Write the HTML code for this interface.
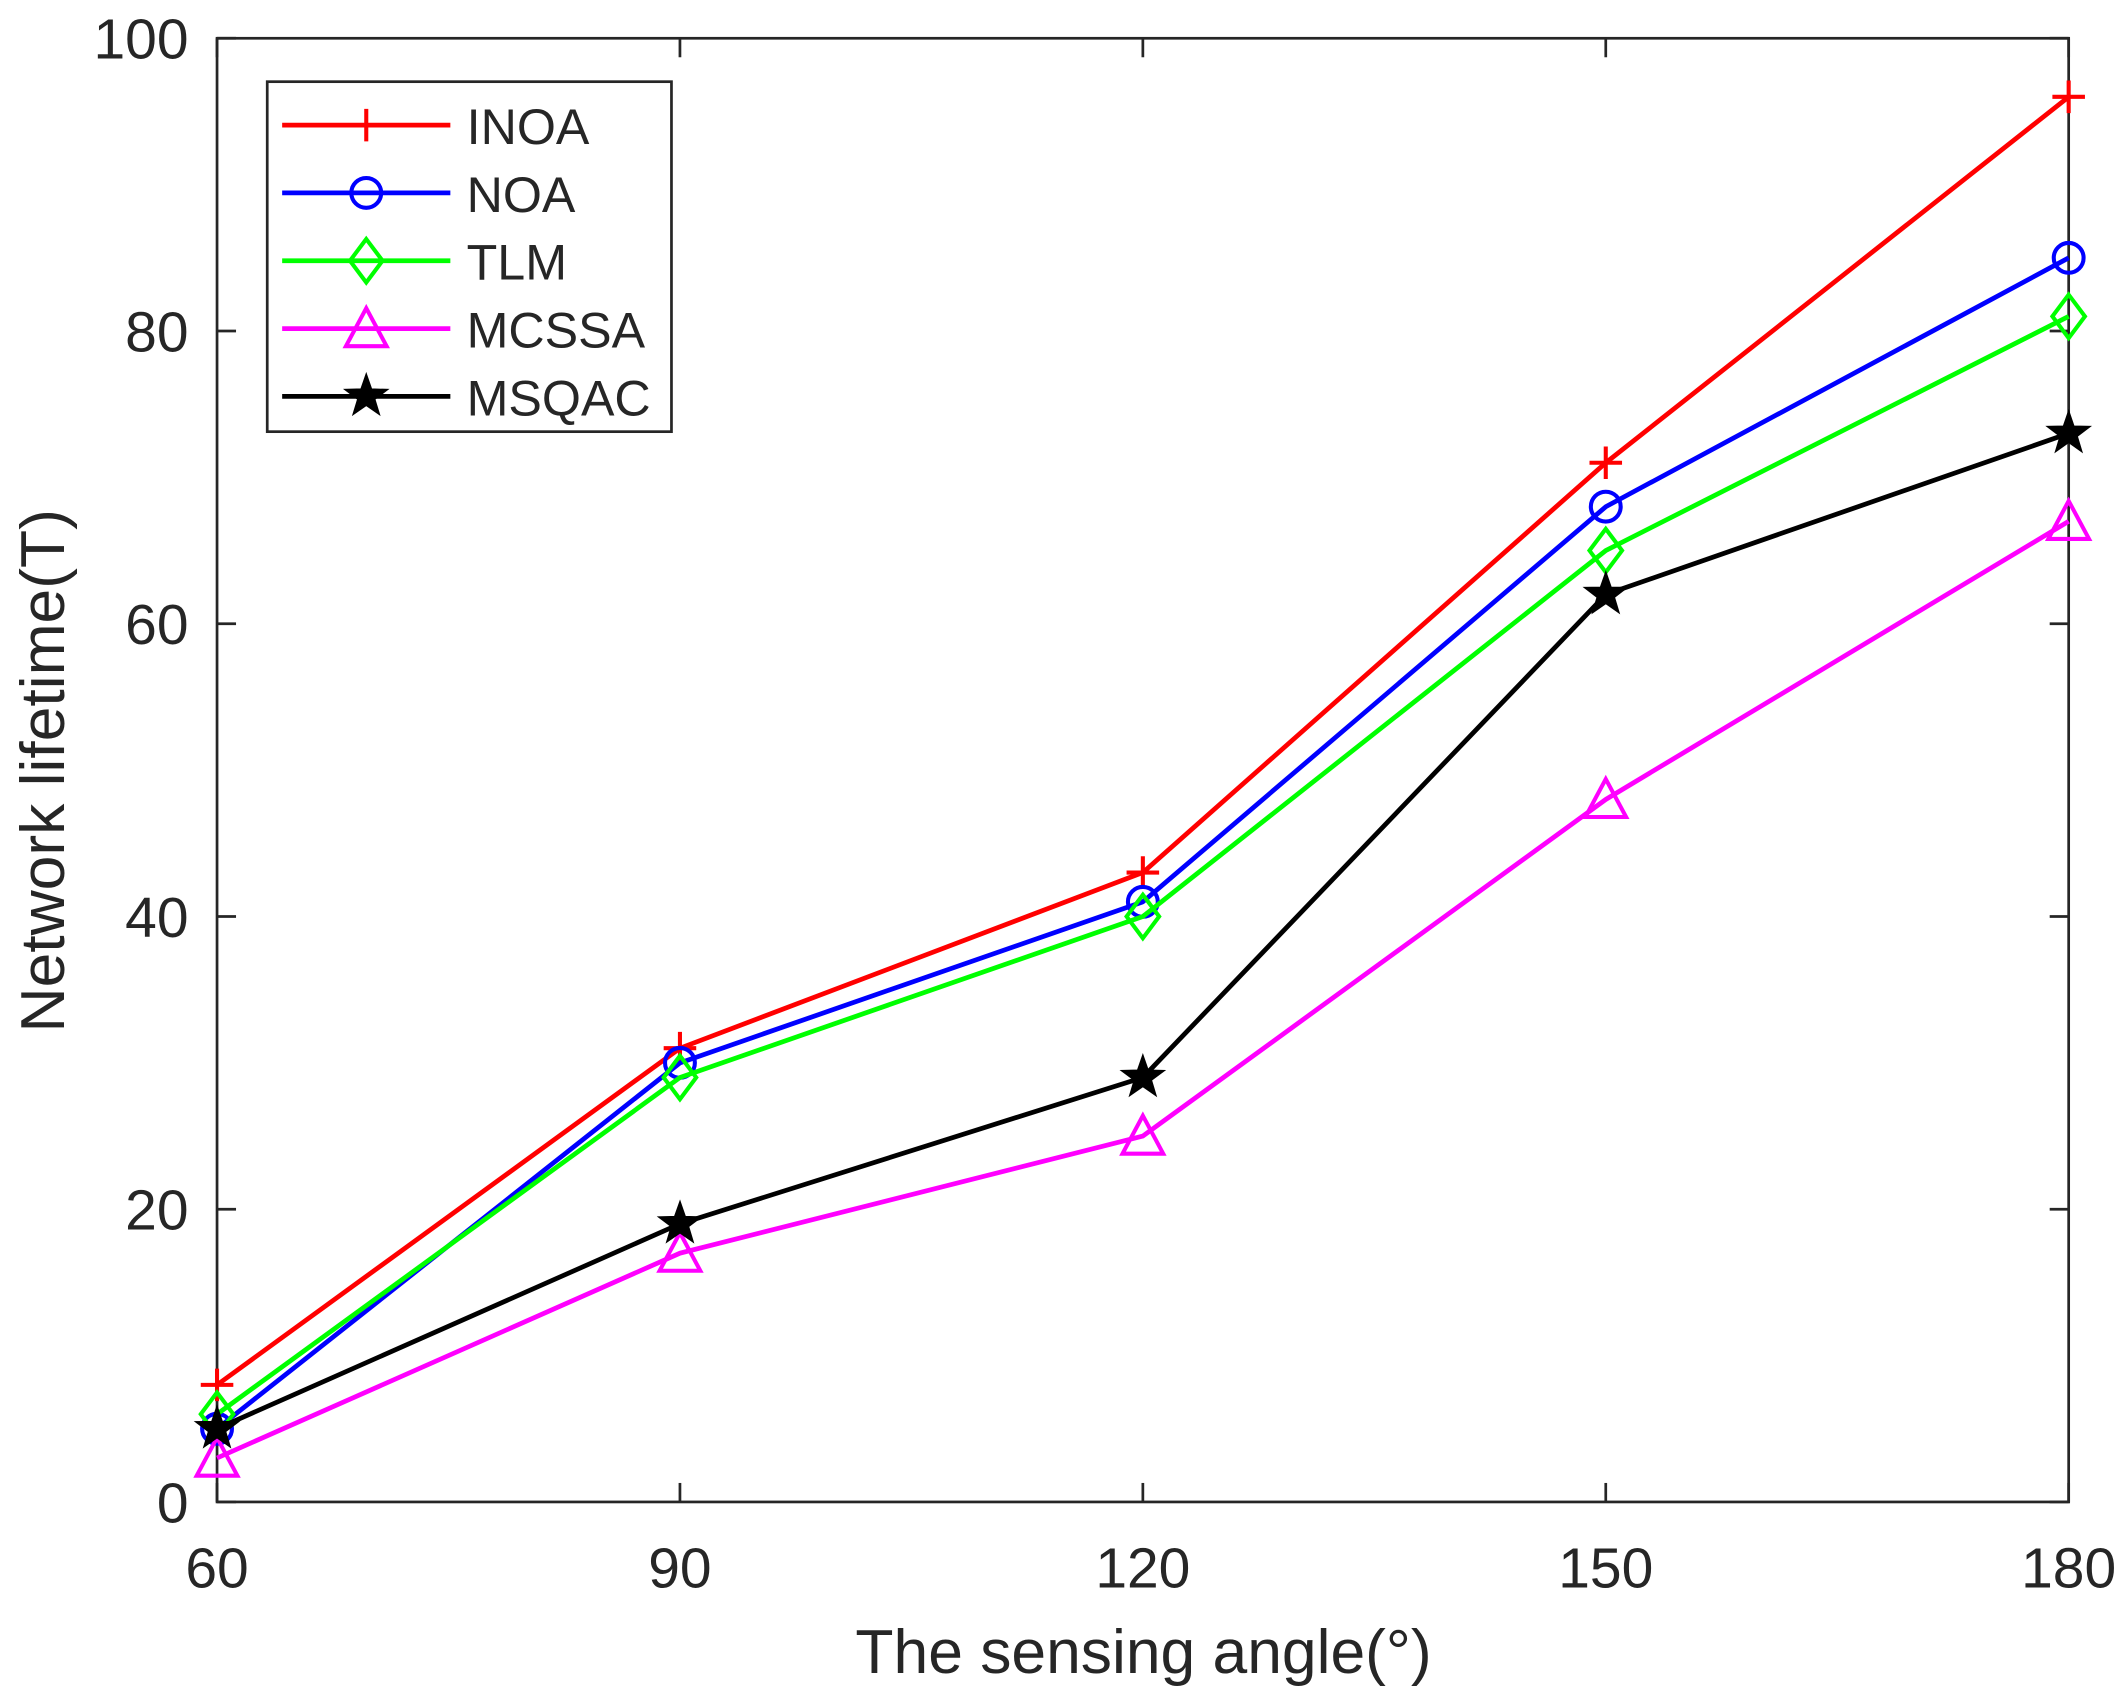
<!DOCTYPE html>
<html><head><meta charset="utf-8"><style>
html,body{margin:0;padding:0;background:#fff;}
svg{display:block;font-family:"Liberation Sans",Arial,sans-serif;}
</style></head><body>
<svg id="chart" width="2127" height="1703" viewBox="0 0 1568 1255" xmlns="http://www.w3.org/2000/svg">
<rect x="0" y="0" width="1568" height="1255" fill="#fff"/>
<g id="axes"></g>
<g id="series"></g>
<g id="legend"></g>
</svg>
<script>
const categories = [60, 90, 120, 150, 180];
const inoaValues = [8, 31, 43, 71, 96];
const noaValues = [5, 30, 41, 68, 85];
const tlmValues = [6, 29, 40, 65, 81];
const mcssaValues = [3, 17, 25, 48, 67];
const msqacValues = [5, 19, 29, 62, 73];
const xTickLabels = ["60", "90", "120", "150", "180"];
const yTickValues = [0, 20, 40, 60, 80, 100];
const seriesNames = ["INOA", "NOA", "TLM", "MCSSA", "MSQAC"];

const NS = "http://www.w3.org/2000/svg";
const L = 160, R = 1525, T = 28, B = 1107;
const xMin = 60, xMax = 180, yMin = 0, yMax = 100;
function xs(v){ return L + (v - xMin) / (xMax - xMin) * (R - L); }
function ys(v){ return B - (v - yMin) / (yMax - yMin) * (B - T); }
function mk(tag, attrs, parent){
  const e = document.createElementNS(NS, tag);
  for (const k in attrs) e.setAttribute(k, attrs[k]);
  parent.appendChild(e);
  return e;
}
const axes = document.getElementById('axes');
const frame = mk('rect', {x:L, y:T, width:R-L, height:B-T, fill:'none', stroke:'#262626', 'stroke-width':2}, axes);


categories.forEach((c, i) => {
  const x = xs(c);
  const t1 = mk('line', {x1:x, y1:B, x2:x, y2:B-14, stroke:'#262626', 'stroke-width':2}, axes);
  
  
  const t2 = mk('line', {x1:x, y1:T, x2:x, y2:T+14, stroke:'#262626', 'stroke-width':2}, axes);
  
  
  const lb = mk('text', {x:x, y:1170, 'text-anchor':'middle', 'font-size':42, fill:'#262626'}, axes);
  lb.textContent = xTickLabels[i];
  
  
});
yTickValues.forEach(v => {
  const y = ys(v);
  const t1 = mk('line', {x1:L, y1:y, x2:L+14, y2:y, stroke:'#262626', 'stroke-width':2}, axes);
  
  
  const t2 = mk('line', {x1:R, y1:y, x2:R-14, y2:y, stroke:'#262626', 'stroke-width':2}, axes);
  
  
  const lb = mk('text', {x:139, y:y+15, 'text-anchor':'end', 'font-size':42, fill:'#262626'}, axes);
  lb.textContent = String(v);
  
  
});
const xt = mk('text', {x:843, y:1233, 'text-anchor':'middle', 'font-size':46, fill:'#262626'}, axes);
xt.textContent = 'The sensing angle(°)';


const yt = mk('text', {x:0, y:0, 'text-anchor':'middle', 'font-size':46, fill:'#262626', transform:'translate(47,568) rotate(-90)'}, axes);
yt.textContent = 'Network lifetime(T)';



const colors = ['#ff0000', '#0000ff', '#00ff00', '#ff00ff', '#000000'];
const markers = ['plus', 'circle', 'diamond', 'triangle', 'star'];
const allValues = [inoaValues, noaValues, tlmValues, mcssaValues, msqacValues];

function marker(type, x, y, color, parent){
  let e;
  const sw = 3;
  if (type === 'plus') {
    e = mk('path', {d:`M${x-12},${y}H${x+12}M${x},${y-12}V${y+12}`, stroke:color, 'stroke-width':sw, fill:'none'}, parent);
  } else if (type === 'circle') {
    e = mk('circle', {cx:x, cy:y, r:11, stroke:color, 'stroke-width':sw, fill:'none'}, parent);
  } else if (type === 'diamond') {
    e = mk('path', {d:`M${x},${y-16}L${x+12},${y}L${x},${y+16}L${x-12},${y}Z`, stroke:color, 'stroke-width':sw, fill:'none'}, parent);
  } else if (type === 'triangle') {
    e = mk('path', {d:`M${x},${y-15}L${x+15},${y+13}L${x-15},${y+13}Z`, stroke:color, 'stroke-width':sw, fill:'none'}, parent);
  } else {
    let d = '';
    for (let k = 0; k < 10; k++) {
      const r = k % 2 ? 6 : 15;
      const a = -Math.PI/2 + k * Math.PI/5;
      d += (k ? 'L' : 'M') + (x + r*Math.cos(a)).toFixed(1) + ',' + (y + r*Math.sin(a)).toFixed(1);
    }
    e = mk('path', {d:d+'Z', stroke:color, 'stroke-width':2, fill:color}, parent);
  }
  return e;
}

const sg = document.getElementById('series');
allValues.forEach((vals, s) => {
  const g = mk('g', {}, sg);
  
  
  const pts = vals.map((v, i) => xs(categories[i]).toFixed(1) + ',' + ys(v).toFixed(1)).join(' ');
  const pl = mk('polyline', {points:pts, fill:'none', stroke:colors[s], 'stroke-width':3.5}, g);
  
  
  vals.forEach((v, i) => {
    const m = marker(markers[s], xs(categories[i]), ys(v), colors[s], g);
    
    
  });
});

const lg = document.getElementById('legend');
const lbox = mk('rect', {x:197, y:60, width:298, height:258, fill:'#fff', stroke:'#262626', 'stroke-width':2}, lg);


seriesNames.forEach((n, s) => {
  const y = 92 + s * 50;
  const g = mk('g', {}, lg);
  
  
  mk('line', {x1:208, y1:y, x2:332, y2:y, stroke:colors[s], 'stroke-width':3.5}, g);
  marker(markers[s], 270, y, colors[s], g);
  const t = mk('text', {x:344, y:y+14, 'font-size':37, fill:'#262626'}, g);
  t.textContent = n;
  
  
});
</script>
</body></html>
